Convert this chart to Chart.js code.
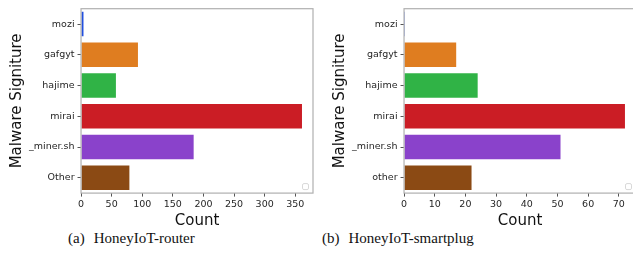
<!DOCTYPE html>
<html>
<head>
<meta charset="utf-8">
<script src="https://cdn.jsdelivr.net/npm/chart.js@4/dist/chart.umd.min.js"></script>
<style>
  html, body { margin: 0; padding: 0; background: #fff; width: 633px; height: 268px; overflow: hidden; }
  .panel { position: absolute; top: 0; width: 323px; height: 230px; }
  .cap { position: absolute; top: 231px; font-family: "Liberation Serif", "DejaVu Serif", serif; font-size: 15px; line-height: 15px; color: #111; white-space: nowrap; }
  .cap span { margin-right: 9px; }
</style>
</head>
<body>
<div class="panel" style="left:0"><canvas id="router" width="323" height="230"></canvas></div>
<div class="panel" style="left:323px"><canvas id="smartplug" width="323" height="230"></canvas></div>
<div class="cap" style="left:68px"><span>(a)</span>HoneyIoT-router</div>
<div class="cap" style="left:322px"><span>(b)</span>HoneyIoT-smartplug</div>
<script>
const routerLabels = ["mozi", "gafgyt", "hajime", "mirai", "_miner.sh", "Other"];
const routerCounts = [4, 93, 57, 361, 184, 79];

const plugLabels = ["mozi", "gafgyt", "hajime", "mirai", "_miner.sh", "other"];
const plugCounts = [0.3, 17, 24, 72, 51, 22];

const barColors = ["#224fdf", "#df7d20", "#30b346", "#cb1d25", "#8a42cb", "#8b4a14"];

// frame around the plot + empty legend box like matplotlib
const frame = {
    id: 'frame',
    afterDraw(chart) {
        const a = chart.chartArea, ctx = chart.ctx;
        ctx.save();
        ctx.strokeStyle = '#b0b0b0';
        ctx.lineWidth = 1.2;
        ctx.strokeRect(a.left, a.top, a.right - a.left, a.bottom - a.top);
        ctx.strokeStyle = '#d8d8d8';
        ctx.lineWidth = 1;
        ctx.beginPath();
        ctx.roundRect(a.right - 10.5, a.bottom - 9.5, 6, 6, 1.5);
        ctx.stroke();
        ctx.restore();
    }
};

function makeChart(id, labels, counts, xmax, step) {
    new Chart(document.getElementById(id), {
        type: 'bar',
        data: {
            labels: labels,
            datasets: [{
                data: counts,
                backgroundColor: barColors,
                borderWidth: 0,
                categoryPercentage: 0.8,
                barPercentage: 1.0
            }]
        },
        options: {
            indexAxis: 'y',
            responsive: false,
            animation: false,
            layout: { padding: { left: 8, right: 10, top: 5, bottom: 0 } },
            plugins: { legend: { display: false }, tooltip: { enabled: false } },
            scales: {
                x: {
                    min: 0,
                    max: xmax,
                    border: { display: false },
                    grid: { drawOnChartArea: false, tickLength: 3.5, color: '#555' },
                    ticks: {
                        stepSize: step,
                        includeBounds: false,
                        padding: 2,
                        color: '#262626',
                        font: { family: 'DejaVu Sans', size: 9.5 }
                    },
                    title: {
                        display: true,
                        text: 'Count',
                        color: '#111',
                        padding: 0,
                        font: { family: 'DejaVu Sans', size: 15 }
                    }
                },
                y: {
                    border: { display: false },
                    grid: { offset: false, drawOnChartArea: false, tickLength: 3.5, color: '#555' },
                    ticks: {
                        padding: 3,
                        color: '#262626',
                        font: { family: 'DejaVu Sans', size: 9.5 }
                    },
                    title: {
                        display: true,
                        text: 'Malware Signiture',
                        color: '#111',
                        padding: 0,
                        font: { family: 'DejaVu Sans', size: 15 }
                    }
                }
            }
        },
        plugins: [frame]
    });
}

makeChart('router', routerLabels, routerCounts, 379, 50);
makeChart('smartplug', plugLabels, plugCounts, 75.6, 10);
</script>
</body>
</html>
